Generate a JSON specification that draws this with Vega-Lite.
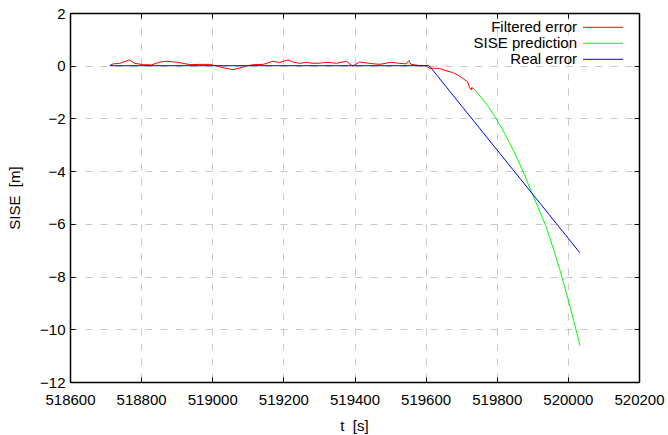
{
  "$schema": "https://vega.github.io/schema/vega-lite/v6.json",
  "width": 569,
  "height": 369,
  "autosize": "none",
  "padding": {"left": 70, "top": 13, "right": 29, "bottom": 53},
  "background": "white",
  "config": {
    "view": {"stroke": null},
    "font": "Liberation Sans",
    "axis": {
      "labelFont": "Liberation Sans",
      "labelFontSize": 15,
      "labelColor": "#000000",
      "titleFont": "Liberation Sans",
      "titleFontSize": 15,
      "titleFontWeight": "normal",
      "titleColor": "#000000",
      "domainColor": "#000000",
      "domainWidth": 1.5,
      "tickColor": "#000000",
      "tickWidth": 1,
      "tickSize": -5,
      "gridColor": "#c8c8c8",
      "gridDash": [7, 8],
      "gridWidth": 1,
      "gridOpacity": 1
    },
    "legend": {
      "orient": "none",
      "legendX": 525.5,
      "legendY": 6.8,
      "padding": 0,
      "title": null,
      "symbolType": "M-4,0H4",
      "symbolSize": 100,
      "symbolStrokeWidth": 1,
      "rowPadding": 0,
      "labelAlign": "right",
      "labelOffset": -33.5,
      "labelFont": "Liberation Sans",
      "labelFontSize": 15,
      "labelColor": "#000000",
      "labelLimit": 300
    }
  },
  "data": {
    "values": [
      {"series": "Filtered error", "t": 518712, "v": 0.0},
      {"series": "Filtered error", "t": 518714, "v": 0.03},
      {"series": "Filtered error", "t": 518722, "v": 0.07},
      {"series": "Filtered error", "t": 518740, "v": 0.09},
      {"series": "Filtered error", "t": 518767, "v": 0.22},
      {"series": "Filtered error", "t": 518782, "v": 0.09},
      {"series": "Filtered error", "t": 518806, "v": 0.04},
      {"series": "Filtered error", "t": 518829, "v": 0.03},
      {"series": "Filtered error", "t": 518853, "v": 0.14},
      {"series": "Filtered error", "t": 518871, "v": 0.17},
      {"series": "Filtered error", "t": 518900, "v": 0.13},
      {"series": "Filtered error", "t": 518918, "v": 0.09},
      {"series": "Filtered error", "t": 518937, "v": 0.04},
      {"series": "Filtered error", "t": 518965, "v": 0.05},
      {"series": "Filtered error", "t": 518993, "v": 0.05},
      {"series": "Filtered error", "t": 519012, "v": -0.01},
      {"series": "Filtered error", "t": 519035, "v": -0.09},
      {"series": "Filtered error", "t": 519058, "v": -0.15},
      {"series": "Filtered error", "t": 519077, "v": -0.09},
      {"series": "Filtered error", "t": 519096, "v": -0.01},
      {"series": "Filtered error", "t": 519115, "v": 0.04},
      {"series": "Filtered error", "t": 519143, "v": 0.05},
      {"series": "Filtered error", "t": 519171, "v": 0.17},
      {"series": "Filtered error", "t": 519189, "v": 0.12},
      {"series": "Filtered error", "t": 519213, "v": 0.22},
      {"series": "Filtered error", "t": 519227, "v": 0.14},
      {"series": "Filtered error", "t": 519246, "v": 0.09},
      {"series": "Filtered error", "t": 519264, "v": 0.13},
      {"series": "Filtered error", "t": 519283, "v": 0.09},
      {"series": "Filtered error", "t": 519302, "v": 0.10},
      {"series": "Filtered error", "t": 519325, "v": 0.13},
      {"series": "Filtered error", "t": 519349, "v": 0.09},
      {"series": "Filtered error", "t": 519377, "v": 0.17},
      {"series": "Filtered error", "t": 519395, "v": -0.02},
      {"series": "Filtered error", "t": 519414, "v": 0.14},
      {"series": "Filtered error", "t": 519442, "v": 0.09},
      {"series": "Filtered error", "t": 519470, "v": 0.05},
      {"series": "Filtered error", "t": 519503, "v": 0.13},
      {"series": "Filtered error", "t": 519526, "v": 0.09},
      {"series": "Filtered error", "t": 519545, "v": 0.07},
      {"series": "Filtered error", "t": 519553, "v": 0.20},
      {"series": "Filtered error", "t": 519559, "v": 0.05},
      {"series": "Filtered error", "t": 519582, "v": 0.01},
      {"series": "Filtered error", "t": 519601, "v": -0.01},
      {"series": "Filtered error", "t": 519611, "v": -0.09},
      {"series": "Filtered error", "t": 519625, "v": -0.10},
      {"series": "Filtered error", "t": 519639, "v": -0.10},
      {"series": "Filtered error", "t": 519657, "v": -0.19},
      {"series": "Filtered error", "t": 519676, "v": -0.26},
      {"series": "Filtered error", "t": 519690, "v": -0.35},
      {"series": "Filtered error", "t": 519704, "v": -0.48},
      {"series": "Filtered error", "t": 519718, "v": -0.61},
      {"series": "Filtered error", "t": 519723, "v": -0.80},
      {"series": "Filtered error", "t": 519728, "v": -0.92},
      {"series": "Filtered error", "t": 519730, "v": -0.83},
      {"series": "Filtered error", "t": 519737, "v": -0.90},
      {"series": "SISE prediction", "t": 519737, "v": -0.90},
      {"series": "SISE prediction", "t": 519757, "v": -1.21},
      {"series": "SISE prediction", "t": 519777, "v": -1.57},
      {"series": "SISE prediction", "t": 519797, "v": -1.98},
      {"series": "SISE prediction", "t": 519817, "v": -2.44},
      {"series": "SISE prediction", "t": 519837, "v": -2.95},
      {"series": "SISE prediction", "t": 519857, "v": -3.50},
      {"series": "SISE prediction", "t": 519877, "v": -4.11},
      {"series": "SISE prediction", "t": 519897, "v": -4.77},
      {"series": "SISE prediction", "t": 519917, "v": -5.40},
      {"series": "SISE prediction", "t": 519937, "v": -6.05},
      {"series": "SISE prediction", "t": 519957, "v": -6.85},
      {"series": "SISE prediction", "t": 519977, "v": -7.72},
      {"series": "SISE prediction", "t": 519997, "v": -8.68},
      {"series": "SISE prediction", "t": 520017, "v": -9.70},
      {"series": "SISE prediction", "t": 520034, "v": -10.62},
      {"series": "Real error", "t": 518712, "v": 0.0},
      {"series": "Real error", "t": 519610, "v": 0.0},
      {"series": "Real error", "t": 520034, "v": -7.1}
    ]
  },
  "layer": [
    {
      "mark": {"type": "line", "strokeWidth": 1},
      "encoding": {
        "x": {
          "field": "t", "type": "quantitative",
          "scale": {"domain": [518600, 520200], "nice": false, "zero": false},
          "axis": {
            "orient": "bottom",
            "title": "t\u00a0\u00a0[s]",
            "values": [518600, 518800, 519000, 519200, 519400, 519600, 519800, 520000, 520200],
            "format": "d",
            "grid": true,
            "labelPadding": 15,
            "labelFlush": false,
            "labelOverlap": false,
            "titleX": 284,
            "titleY": 43,
            "titleBaseline": "middle",
            "titleAlign": "center"
          }
        },
        "y": {
          "field": "v", "type": "quantitative",
          "scale": {"domain": [-12, 2], "nice": false, "zero": false},
          "axis": {
            "orient": "left",
            "title": "SISE\u00a0\u00a0[m]",
            "values": [-12, -10, -8, -6, -4, -2, 0, 2],
            "format": "d",
            "grid": true,
            "labelPadding": 10,
            "labelFlush": false,
            "labelOverlap": false,
            "titleAngle": -90,
            "titleX": -56,
            "titleY": 184.5,
            "titleBaseline": "middle",
            "titleAlign": "center"
          }
        },
        "color": {
          "field": "series", "type": "nominal",
          "scale": {
            "domain": ["Filtered error", "SISE prediction", "Real error"],
            "range": ["#ff0000", "#00ff00", "#0000ff"]
          },
          "legend": {}
        }
      }
    },
    {
      "mark": {"type": "point", "opacity": 0},
      "encoding": {
        "x": {
          "field": "t", "type": "quantitative",
          "axis": {
            "orient": "top",
            "title": null,
            "labels": false,
            "grid": false,
            "values": [518600, 518800, 519000, 519200, 519400, 519600, 519800, 520000, 520200]
          }
        },
        "y": {
          "field": "v", "type": "quantitative",
          "axis": {
            "orient": "right",
            "title": null,
            "labels": false,
            "grid": false,
            "values": [-12, -10, -8, -6, -4, -2, 0, 2]
          }
        }
      }
    }
  ],
  "resolve": {"axis": {"x": "independent", "y": "independent"}}
}
